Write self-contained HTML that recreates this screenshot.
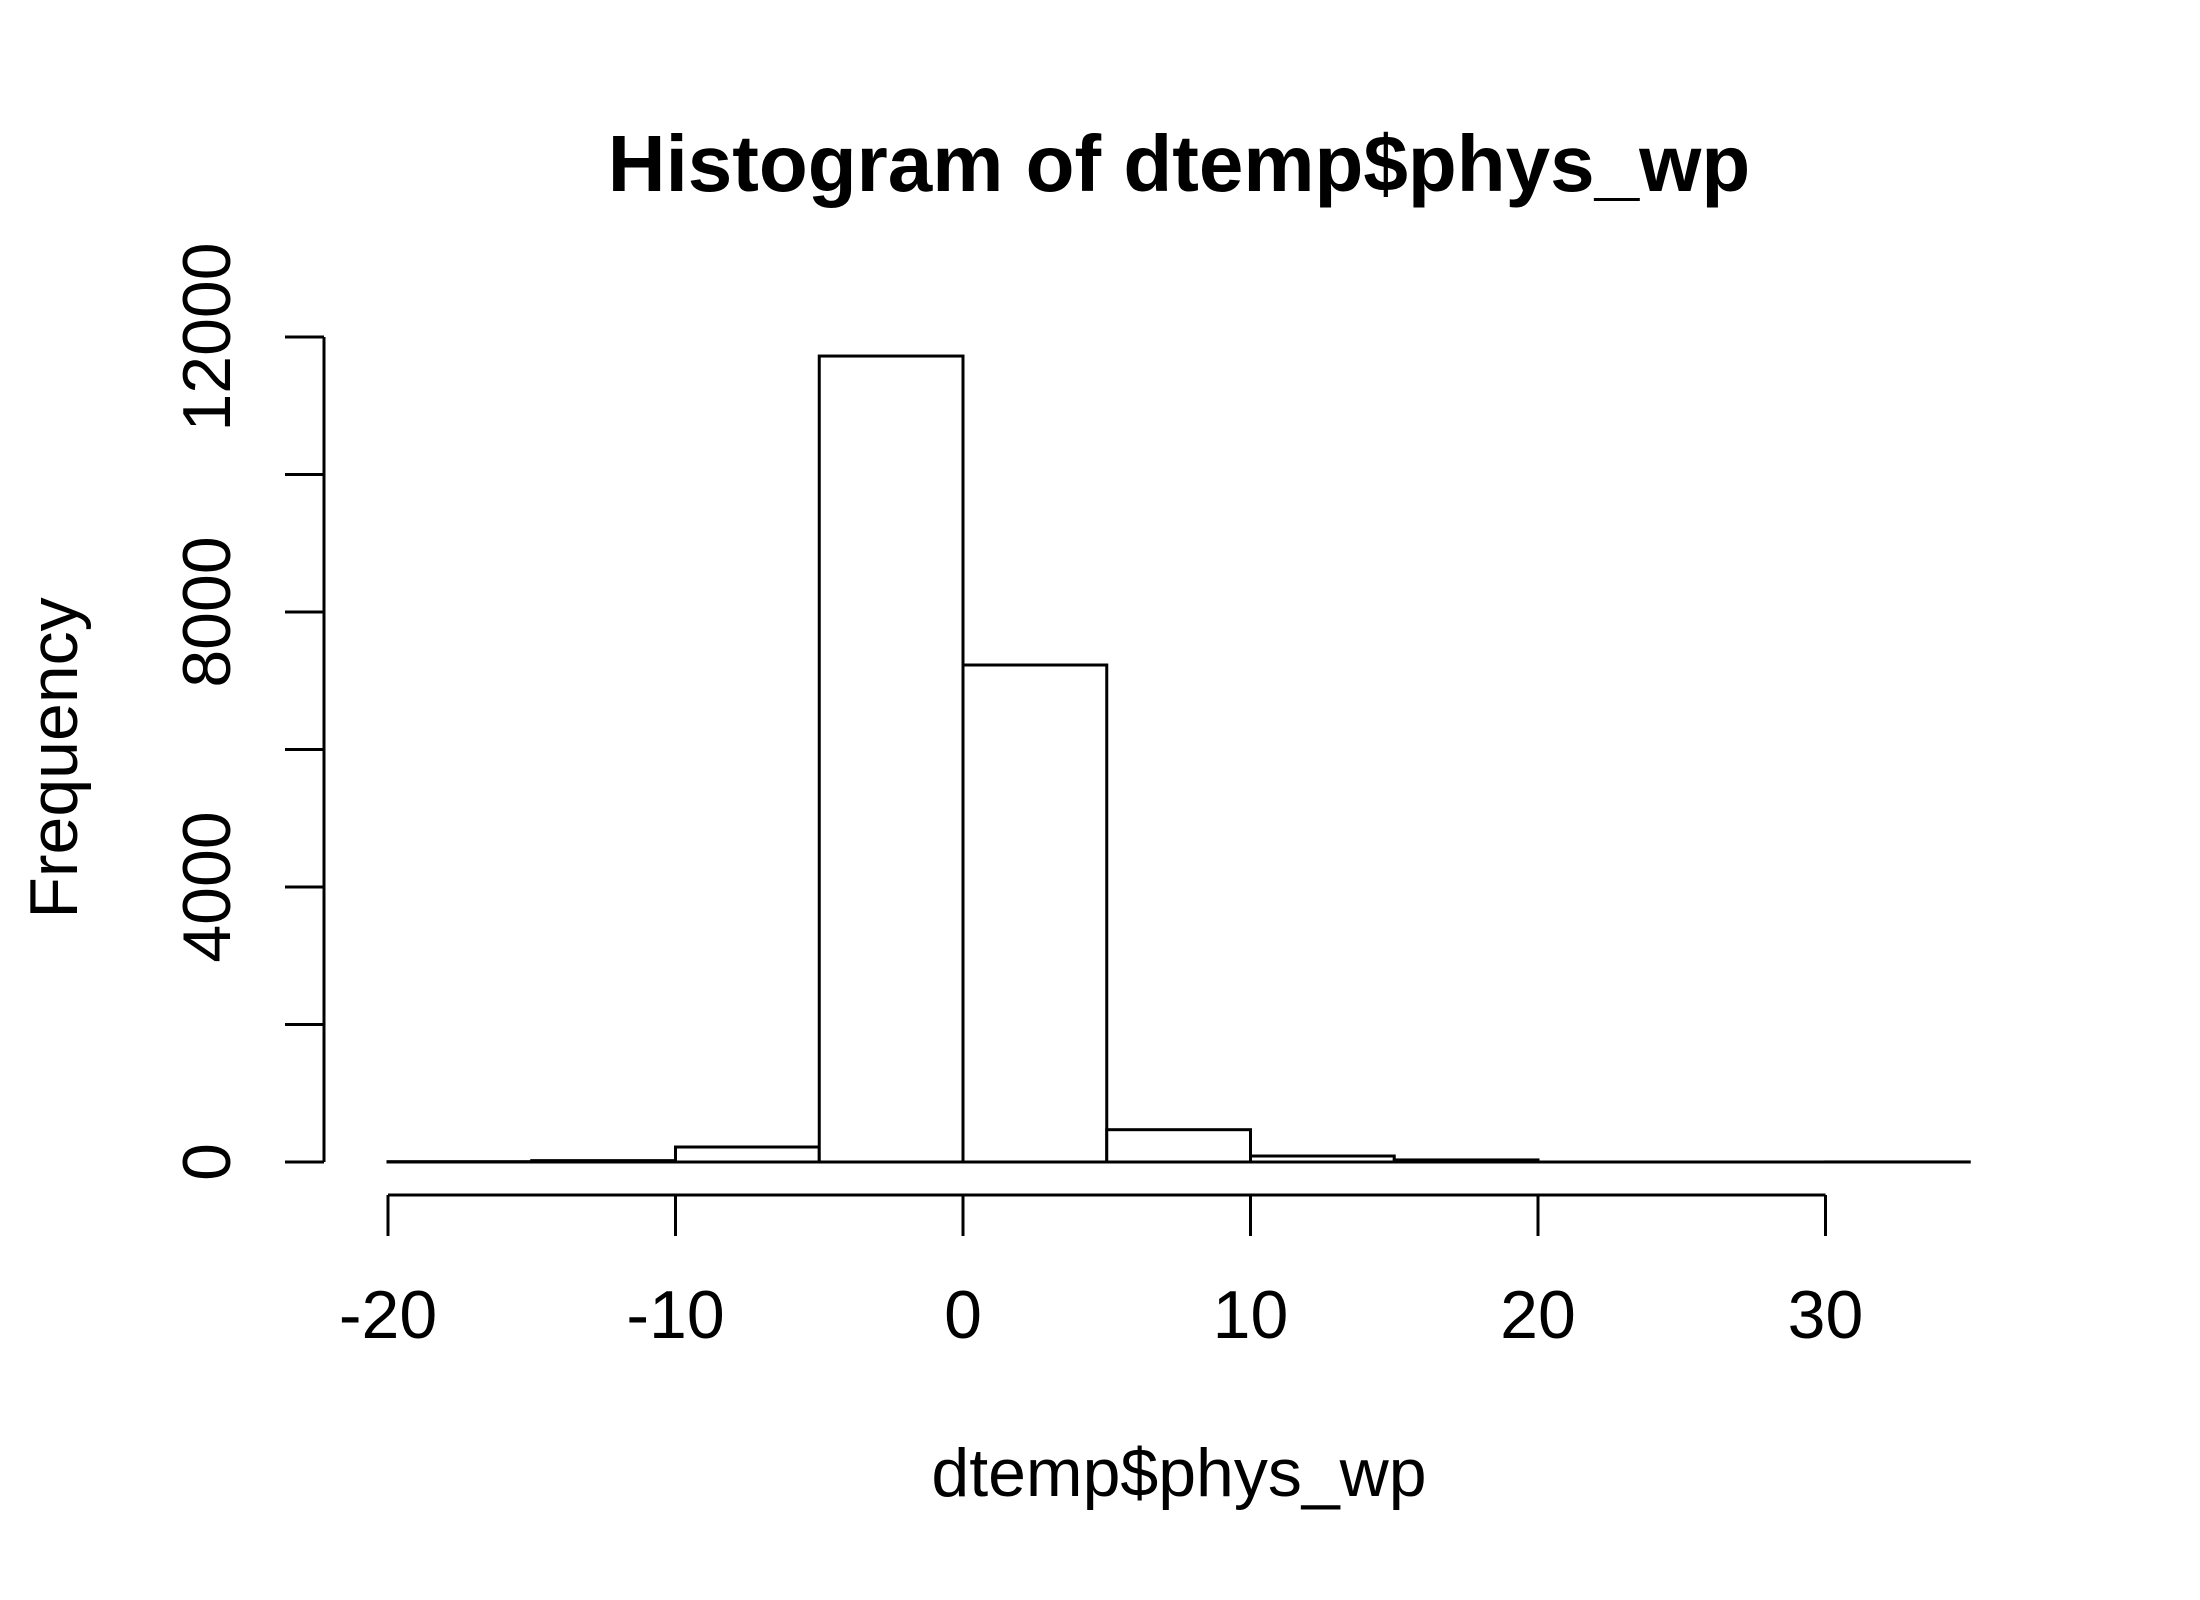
<!DOCTYPE html>
<html><head><meta charset="utf-8"><style>
html,body{margin:0;padding:0;background:#fff}
svg{display:block;font-family:"Liberation Sans",Arial,sans-serif}
</style></head><body>
<svg id="chart" width="2200" height="1600" viewBox="0 0 2200 1600" xmlns="http://www.w3.org/2000/svg">
<rect width="2200" height="1600" fill="#fff"/>
<text x="1179" y="191" font-size="80" font-weight="bold" text-anchor="middle">Histogram of dtemp$phys_wp</text>
<text x="1179" y="1496" font-size="68" text-anchor="middle">dtemp$phys_wp</text>
<text transform="translate(77,758) rotate(-90)" font-size="68" text-anchor="middle">Frequency</text>
<g id="bars"></g><g id="axes"></g>
</svg>
<script>
const binEdges = [-20,-15,-10,-5,0,5,10,15,20,25,30,35];
const counts = [5,20,218,11723,7229,470,87,30,0,0,1];
const xTicks = [-20,-10,0,10,20,30];
const yTicks = [0,2000,4000,6000,8000,10000,12000];
const yTickLabels = ["0","","4000","","8000","","12000"];

const NS="http://www.w3.org/2000/svg";
const xs = v => 388 + (v + 20) * 28.75;
const ys = v => 1162 - v * (825 / 12000);
function mk(tag, attrs, parent){const e=document.createElementNS(NS,tag);for(const k in attrs)e.setAttribute(k,attrs[k]);parent.appendChild(e);return e;}
const bars=document.getElementById('bars'), axes=document.getElementById('axes');
const base=mk('line',{x1:xs(binEdges[0]),x2:xs(binEdges[binEdges.length-1]),y1:ys(0),y2:ys(0),stroke:'#000','stroke-width':3},bars);


for(let i=0;i<counts.length;i++){
  const x0=xs(binEdges[i]), x1=xs(binEdges[i+1]), y=ys(counts[i]);
  const r=mk('rect',{x:x0,y:y,width:x1-x0,height:Math.max(0,ys(0)-y),fill:'#fff',stroke:'#000','stroke-width':3},bars);
  
  
}
const xl=mk('line',{x1:xs(xTicks[0]),x2:xs(xTicks[xTicks.length-1]),y1:1195,y2:1195,stroke:'#000','stroke-width':3},axes);


xTicks.forEach(t=>{
  const tk=mk('line',{x1:xs(t),x2:xs(t),y1:1195,y2:1236,stroke:'#000','stroke-width':3},axes);
  
  
  const tx=mk('text',{x:xs(t),y:1338,'font-size':68,'text-anchor':'middle'},axes);
  tx.textContent=String(t);
  
  
});
const yl=mk('line',{x1:324,x2:324,y1:ys(yTicks[0]),y2:ys(yTicks[yTicks.length-1]),stroke:'#000','stroke-width':3},axes);


yTicks.forEach((t,i)=>{
  const tk=mk('line',{x1:285,x2:324,y1:ys(t),y2:ys(t),stroke:'#000','stroke-width':3},axes);
  
  
  if(yTickLabels[i]){
    const tx=mk('text',{transform:`translate(230,${ys(t)}) rotate(-90)`,'font-size':68,'text-anchor':'middle'},axes);
    tx.textContent=yTickLabels[i];
    
    
  }
});
</script>
</body></html>
